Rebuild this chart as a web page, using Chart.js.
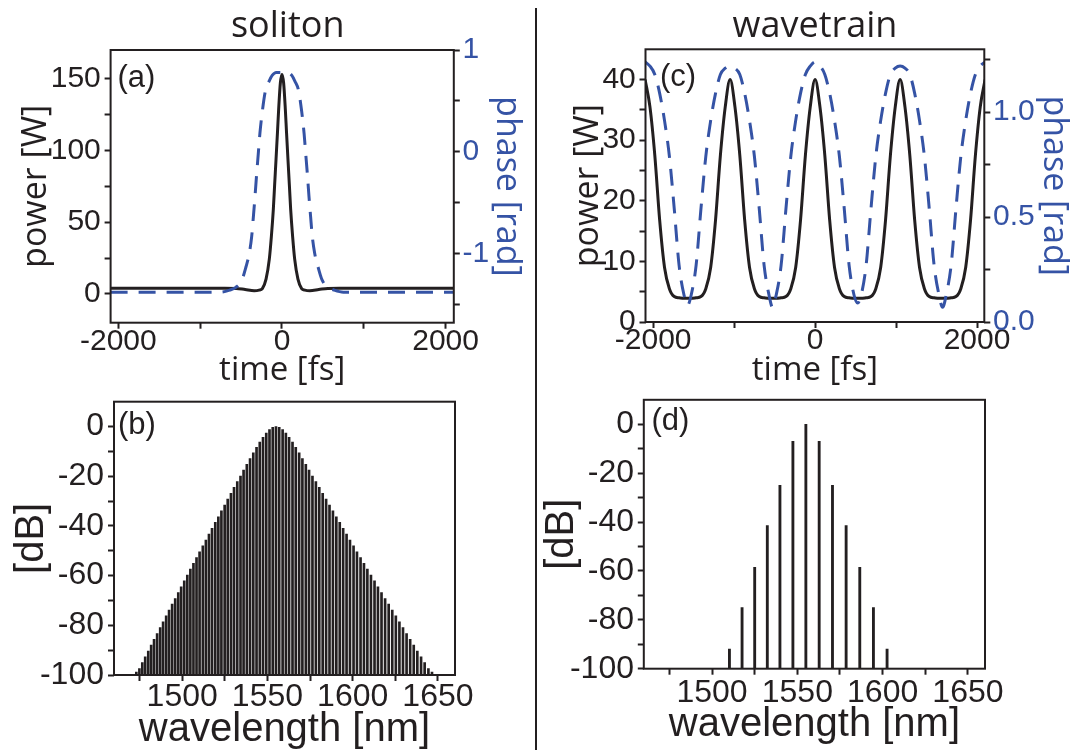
<!doctype html>
<html>
  <head>
    <meta charset="utf-8" />
    <title>Soliton and wavetrain</title>
    <script src="https://cdn.jsdelivr.net/npm/chart.js@4.4.1/dist/chart.umd.min.js"></script>
    <style>
      body { margin: 0; background: #fff; }
      #fig { position: relative; width: 1086px; height: 750px; overflow: hidden; }
      #fig canvas { position: absolute; }
      #divider { position: absolute; left: 535px; top: 8px; width: 2px; height: 742px; background: #231f20; }
    </style>
  </head>
  <body>
    <div id="fig">
      <canvas id="panelA" width="535" height="400" style="left:0;top:0"></canvas>
      <canvas id="panelB" width="535" height="370" style="left:0;top:380px"></canvas>
      <canvas id="panelC" width="551" height="400" style="left:535px;top:0"></canvas>
      <canvas id="panelD" width="551" height="370" style="left:535px;top:380px"></canvas>
      <div id="divider"></div>
    </div>

    <script>
      // (a) soliton pulse: power [W] and phase [rad] against time [fs]
      var solitonTime = [-2095, -1500, -1000, -700, -560, -450, -340, -280, -240, -195, -155, -130, -106, -90, -73, -55, -41, -20, 0,
        20, 41, 55, 73, 90, 106, 130, 155, 195, 240, 280, 340, 450, 560, 700, 1000, 1500, 2100];
      var solitonPower = [4, 4, 4, 4, 3.9, 3.1, 2.3, 2.7, 3.8, 10.4, 24.3, 40, 59, 76, 93.7, 113, 128.5, 147, 153,
        147, 128.5, 113, 93.7, 76, 59, 40, 24.3, 10.4, 3.8, 2.7, 2.3, 3.1, 3.9, 4, 4, 4, 4];
      var solitonPhaseTime = [-2095, -1500, -1000, -750, -640, -560, -490, -440, -400, -370, -350, -330, -310, -290, -270, -240, -200, -160, -120, -70, 0,
        70, 120, 160, 200, 240, 270, 290, 310, 330, 350, 370, 400, 440, 490, 560, 640, 750, 1000, 1500, 2100];
      var solitonPhase = [-1.38, -1.38, -1.38, -1.38, -1.36, -1.33, -1.26, -1.13, -1.0, -0.83, -0.64, -0.44, -0.22, -0.02, 0.18, 0.4, 0.61, 0.69, 0.75, 0.78, 0.78,
        0.78, 0.75, 0.69, 0.61, 0.4, 0.18, -0.02, -0.22, -0.44, -0.64, -0.83, -1.0, -1.13, -1.26, -1.33, -1.36, -1.38, -1.38, -1.38, -1.38];

      // (b) soliton spectrum: comb lines [nm] and their level [dB]
      var solitonLambda = [1473.1, 1474.9, 1476.6, 1478.3, 1480.1, 1481.8, 1483.5, 1485.3, 1487.1, 1488.8, 1490.6, 1492.3, 1494.1, 1495.9, 1497.7,
        1499.4, 1501.2, 1503.0, 1504.8, 1506.6, 1508.4, 1510.2, 1512.1, 1513.9, 1515.7, 1517.5, 1519.4, 1521.2, 1523.0, 1524.9,
        1526.7, 1528.6, 1530.4, 1532.3, 1534.2, 1536.0, 1537.9, 1539.8, 1541.7, 1543.6, 1545.5, 1547.4, 1549.3, 1551.2, 1553.1,
        1555.0,
        1556.9, 1558.9, 1560.8, 1562.7, 1564.7, 1566.6, 1568.6, 1570.5, 1572.5, 1574.4, 1576.4, 1578.4, 1580.4, 1582.4, 1584.4,
        1586.4, 1588.4, 1590.4, 1592.4, 1594.4, 1596.4, 1598.4, 1600.5, 1602.5, 1604.6, 1606.6, 1608.6, 1610.7, 1612.8, 1614.8,
        1616.9, 1619.0, 1621.1, 1623.2, 1625.3, 1627.4, 1629.5, 1631.6, 1633.7, 1635.8, 1637.9, 1640.1, 1642.2, 1644.4, 1646.5];
      var solitonDb = [-98.8, -97.4, -95.0, -92.7, -90.4, -88.0, -85.6, -83.3, -80.9, -78.6, -76.2, -73.9, -71.5, -69.2, -66.8,
        -64.5, -62.1, -59.8, -57.4, -55.1, -52.7, -50.4, -48.0, -45.7, -43.3, -41.0, -38.6, -36.3, -33.9, -31.6,
        -29.2, -26.9, -24.5, -22.2, -19.9, -17.5, -15.2, -12.9, -10.6, -8.4, -6.3, -4.3, -2.6, -1.2, -0.3,
        0,
        -0.3, -1.2, -2.6, -4.3, -6.3, -8.4, -10.6, -12.9, -15.2, -17.5, -19.9, -22.2, -24.5, -26.9, -29.2,
        -31.6, -33.9, -36.3, -38.6, -41.0, -43.3, -45.7, -48.0, -50.4, -52.7, -55.1, -57.4, -59.8, -62.1, -64.5,
        -66.8, -69.2, -71.5, -73.9, -76.2, -78.6, -80.9, -83.3, -85.6, -88.0, -90.4, -92.7, -95.0, -97.4, -98.8];

      // (c) wavetrain: power [W] and phase [rad] against time [fs]
      var trainTime = [-2100, -2040, -1980, -1920, -1860, -1800, -1740, -1680, -1620, -1575, -1530, -1470, -1410, -1350, -1290, -1230, -1170, -1110,
        -1050, -990, -930, -870, -810, -750, -690, -630, -570, -525, -480, -420, -360, -300, -240, -180, -120, -60,
        0, 60, 120, 180, 240, 300, 360, 420, 480, 525, 570, 630, 690, 750, 810, 870, 930, 990,
        1050, 1110, 1170, 1230, 1290, 1350, 1410, 1470, 1530, 1575, 1620, 1680, 1740, 1800, 1860, 1920, 1980, 2040, 2100];
      var trainPower = [40, 35.5, 27.5, 16.8, 9, 5.5, 4.2, 4, 3.9, 3.9, 3.9, 4, 4.2, 5.5, 9, 16.8, 27.5, 35.5,
        40, 35.5, 27.5, 16.8, 9, 5.5, 4.2, 4, 3.9, 3.9, 3.9, 4, 4.2, 5.5, 9, 16.8, 27.5, 35.5,
        40, 35.5, 27.5, 16.8, 9, 5.5, 4.2, 4, 3.9, 3.9, 3.9, 4, 4.2, 5.5, 9, 16.8, 27.5, 35.5,
        40, 35.5, 27.5, 16.8, 9, 5.5, 4.2, 4, 3.9, 3.9, 3.9, 4, 4.2, 5.5, 9, 16.8, 27.5, 35.5, 40];
      var trainPhase = [1.24, 1.22, 1.18, 1.09, 0.96, 0.79, 0.54, 0.27, 0.13, 0.08, 0.13, 0.27, 0.54, 0.79, 0.96, 1.09, 1.18, 1.21,
        1.22, 1.21, 1.18, 1.09, 0.96, 0.79, 0.54, 0.27, 0.13, 0.07, 0.13, 0.27, 0.54, 0.79, 0.96, 1.09, 1.18, 1.22,
        1.24, 1.22, 1.18, 1.09, 0.96, 0.79, 0.54, 0.27, 0.13, 0.09, 0.13, 0.27, 0.54, 0.79, 0.96, 1.09, 1.18, 1.21,
        1.22, 1.21, 1.18, 1.09, 0.96, 0.79, 0.54, 0.27, 0.13, 0.07, 0.13, 0.27, 0.54, 0.79, 0.96, 1.09, 1.18, 1.22, 1.24];

      // (d) wavetrain spectrum
      var trainLambda = [1510.2, 1517.6, 1525.0, 1532.4, 1539.8, 1547.4, 1555.0, 1562.8, 1570.6, 1578.6, 1586.6, 1594.6, 1602.6];
      var trainDb = [-92, -75, -58.5, -41.5, -25, -7, 0, -7, -25, -41.5, -58.5, -75, -92];

      // ticks (all positions carry a mark, only the listed ones carry a label)
      var timeTicks = [-2000, -1000, 0, 1000, 2000];
      var timeLabels = [-2000, 0, 2000];
      var solitonPowerTicks = [0, 25, 50, 75, 100, 125, 150];
      var solitonPowerLabels = [0, 50, 100, 150];
      var solitonPhaseTicks = [-1.5, -1, -0.5, 0, 0.5, 1];
      var solitonPhaseLabels = [-1, 0, 1];
      var trainPowerTicks = [0, 5, 10, 15, 20, 25, 30, 35, 40];
      var trainPowerLabels = [0, 10, 20, 30, 40];
      var trainPhaseTicks = [0, 0.25, 0.5, 0.75, 1, 1.25];
      var trainPhaseLabels = [0, 0.5, 1];
      var dbTicks = [-100, -90, -80, -70, -60, -50, -40, -30, -20, -10, 0];
      var dbLabels = [-100, -80, -60, -40, -20, 0];
      var lambdaTicks = [1475, 1500, 1525, 1550, 1575, 1600, 1625, 1650];
      var lambdaLabels = [1500, 1550, 1600, 1650];

      var INK = "#231f20";
      var BLUE = "#3553a5";
      var SANS = '"Liberation Sans", Arial, sans-serif';
      var HUMAN = '"Open Sans", "Noto Sans", sans-serif';

      function pts(xs, ys) {
        return xs.map(function (x, i) {
          return { x: x, y: ys[i] };
        });
      }

      function axis(o) {
        return {
          type: "linear",
          position: o.position,
          min: o.min,
          max: o.max,
          offset: false,
          grid: { display: true, drawOnChartArea: false, drawTicks: true, tickLength: 6, tickWidth: 2, tickColor: INK, offset: false },
          border: { display: false },
          ticks: {
            autoSkip: false,
            maxRotation: 0,
            padding: o.pad,
            color: o.color || INK,
            font: { family: SANS, size: o.size, lineHeight: 1 },
            callback: function (v) {
              return o.labels.indexOf(v) >= 0 ? (o.fmt ? o.fmt(v) : String(v)) : "";
            },
          },
          afterBuildTicks: function (s) {
            s.ticks = o.ticks.map(function (v) {
              return { value: v };
            });
          },
          afterFit: function (s) {
            if (o.width !== undefined) s.width = o.width;
            if (o.height !== undefined) s.height = o.height;
          },
          title: {
            display: true,
            text: o.title,
            color: o.color || INK,
            font: { family: o.titleFamily || SANS, size: o.titleSize, lineHeight: 1 },
            padding: o.titlePad,
          },
        };
      }

      // box round the plot area
      var frame = {
        id: "frame",
        afterDatasetsDraw: function (chart) {
          var a = chart.chartArea;
          var ctx = chart.ctx;
          ctx.save();
          ctx.strokeStyle = INK;
          ctx.lineWidth = 2;
          ctx.strokeRect(a.left, a.top, a.right - a.left, a.bottom - a.top);
          ctx.restore();
        },
      };

      // panel titles and (a)..(d) marks
      function notes(items) {
        return {
          id: "notes",
          afterDraw: function (chart) {
            var ctx = chart.ctx;
            items.forEach(function (t) {
              ctx.save();
              ctx.font = t.font;
              ctx.fillStyle = INK;
              ctx.textAlign = t.align || "left";
              ctx.textBaseline = t.baseline || "middle";
              ctx.fillText(t.text, t.x, t.y);
              ctx.restore();
            });
          },
        };
      }

      function panel(id, type, datasets, padding, scales, items) {
        return new Chart(document.getElementById(id), {
          type: type,
          data: { datasets: datasets },
          options: {
            responsive: false,
            animation: false,
            events: [],
            layout: { padding: padding },
            plugins: { legend: { display: false }, tooltip: { enabled: false } },
            scales: scales,
          },
          plugins: [frame, notes(items)],
        });
      }

      function pulseSets(t, p, tp, ph) {
        return [
          {
            data: pts(tp, ph),
            yAxisID: "y1",
            borderColor: BLUE,
            borderWidth: 3,
            borderDash: [17, 11],
            pointRadius: 0,
            fill: false,
            cubicInterpolationMode: "monotone",
            order: 0,
          },
          {
            data: pts(t, p),
            yAxisID: "y",
            borderColor: INK,
            borderWidth: 3,
            pointRadius: 0,
            fill: false,
            cubicInterpolationMode: "monotone",
            order: 1,
          },
        ];
      }

      function combSet(l, d, thick) {
        return [{ data: pts(l, d), base: -100, backgroundColor: INK, borderWidth: 0, barThickness: thick }];
      }

      var fmt1 = function (v) {
        return v.toFixed(1);
      };

      // (a)
      panel("panelA", "line", pulseSets(solitonTime, solitonPower, solitonPhaseTime, solitonPhase), { top: 50 }, {
        x: axis({ position: "bottom", min: -2095, max: 2100, ticks: timeTicks, labels: timeLabels, size: 30, pad: -2, height: 77.3,
          title: "time [fs]", titleFamily: HUMAN, titleSize: 33, titlePad: { top: 0, bottom: 13 } }),
        y: axis({ position: "left", min: -20, max: 170, ticks: solitonPowerTicks, labels: solitonPowerLabels, size: 30, pad: 3.8, width: 110.6,
          title: "power [W]", titleFamily: HUMAN, titleSize: 34, titlePad: { top: 19.5, bottom: 0 } }),
        y1: axis({ position: "right", min: -1.68, max: 1, ticks: solitonPhaseTicks, labels: solitonPhaseLabels, size: 30, pad: 2.7, width: 81.2,
          color: BLUE, title: "phase [rad]", titleFamily: HUMAN, titleSize: 34, titlePad: { top: 11, bottom: 0 } }),
      }, [
        { text: "soliton", x: 287.7, y: 37, font: "36px " + HUMAN, align: "center", baseline: "alphabetic" },
        { text: "(a)", x: 117.5, y: 78, font: "31px " + SANS },
      ]);

      // (b)
      panel("panelB", "bar", combSet(solitonLambda, solitonDb, 2), { top: 21.7, right: 80 }, {
        x: axis({ position: "bottom", min: 1460, max: 1660, ticks: lambdaTicks, labels: lambdaLabels, size: 32, pad: 0.5, height: 75,
          title: "wavelength [nm]", titleSize: 40, titlePad: { top: 0, bottom: 0 } }),
        y: axis({ position: "left", min: -100, max: 10, ticks: dbTicks, labels: dbLabels, size: 32, pad: 4, width: 114,
          title: "[dB]", titleSize: 40, titlePad: { top: 12, bottom: 0 } }),
      }, [{ text: "(b)", x: 118, y: 45, font: "31px " + SANS }]);

      // (c)
      panel("panelC", "line", pulseSets(trainTime, trainPower, trainTime, trainPhase), { top: 49.3 }, {
        x: axis({ position: "bottom", min: -2095, max: 2090, ticks: timeTicks, labels: timeLabels, size: 30, pad: -2, height: 78,
          title: "time [fs]", titleFamily: HUMAN, titleSize: 33, titlePad: { top: 0, bottom: 13 } }),
        y: axis({ position: "left", min: 0, max: 45, ticks: trainPowerTicks, labels: trainPowerLabels, size: 30, pad: 3.7, width: 110.5,
          title: "power [W]", titleFamily: HUMAN, titleSize: 34, titlePad: { top: 36, bottom: 0 } }),
        y1: axis({ position: "right", min: 0, max: 1.3, ticks: trainPhaseTicks, labels: trainPhaseLabels, fmt: fmt1, size: 30, pad: 2.7, width: 101.7,
          color: BLUE, title: "phase [rad]", titleFamily: HUMAN, titleSize: 34, titlePad: { top: 15, bottom: 0 } }),
      }, [
        { text: "wavetrain", x: 280, y: 37, font: "36px " + HUMAN, align: "center", baseline: "alphabetic" },
        { text: "(c)", x: 125, y: 77, font: "31px " + SANS },
      ]);

      // (d)
      panel("panelD", "bar", combSet(trainLambda, trainDb, 2.2), { top: 15, right: 101 }, {
        x: axis({ position: "bottom", min: 1460, max: 1660, ticks: lambdaTicks, labels: lambdaLabels, size: 32, pad: 2.6, height: 81.3,
          title: "wavelength [nm]", titleSize: 40, titlePad: { top: 0, bottom: 5 } }),
        y: axis({ position: "left", min: -100, max: 10, ticks: dbTicks, labels: dbLabels, size: 32, pad: 3.8, width: 108.8,
          title: "[dB]", titleSize: 40, titlePad: { top: 7, bottom: 0 } }),
      }, [{ text: "(d)", x: 116.5, y: 41.5, font: "31px " + SANS }]);
    </script>
  </body>
</html>
